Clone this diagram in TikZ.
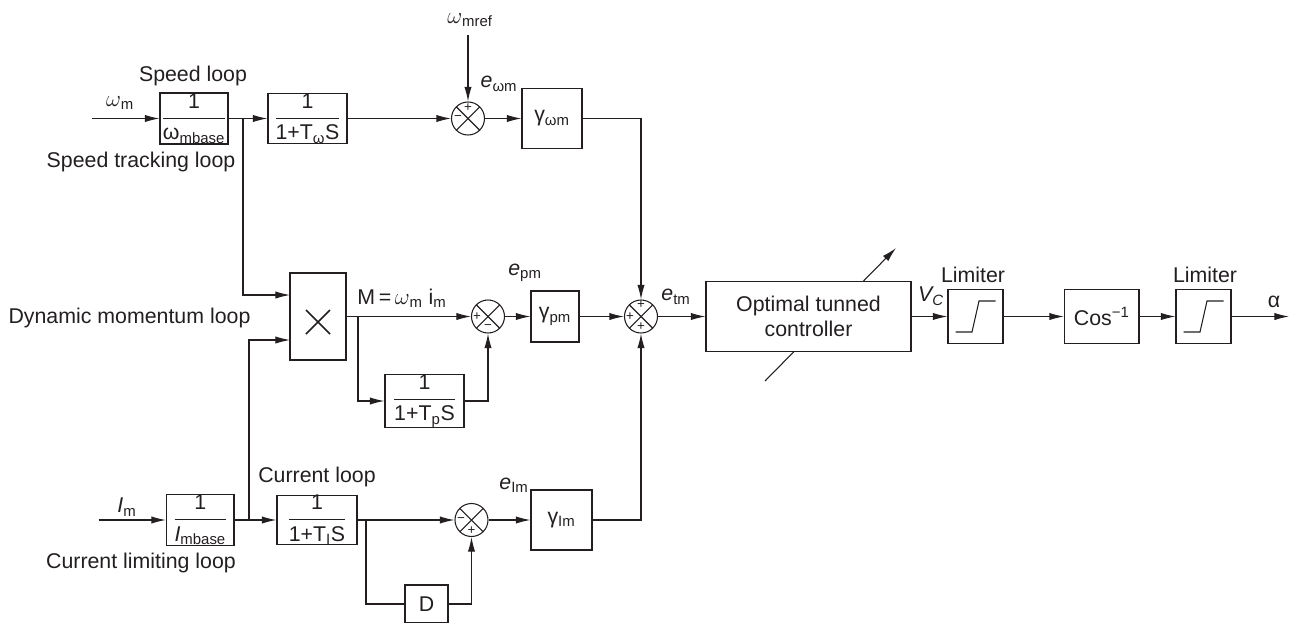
\documentclass[tikz,border=0pt]{standalone}
\usepackage{fontspec}
\setmainfont{Liberation Sans}
\usetikzlibrary{arrows.meta}
\definecolor{ink}{HTML}{231F20}
\newcommand{\blkfrac}[2]{$\displaystyle\frac{\mbox{#1}}{\mbox{#2}}$}
\tikzset{
  blk/.style 2 args={draw,inner sep=0pt,minimum width=#1*0.75pt,minimum height=#2*0.75pt},
  sumnode/.style={draw,circle,inner sep=0pt,minimum size=24.75pt,
    path picture={\draw (path picture bounding box.north west) -- (path picture bounding box.south east);
      \draw (path picture bounding box.north east) -- (path picture bounding box.south west);}},
  lbl/.style={inner sep=0pt},
  sgn/.style={inner sep=0pt,font=\fontsize{10}{10}\selectfont},
  flow/.style={-{Latex[length=11pt,width=5.5pt]}}
}
\begin{document}
\begin{tikzpicture}[x=0.75pt,y=-0.75pt,line width=0.8pt,color=ink,font=\fontsize{16}{19}\selectfont]
\useasboundingbox (0,0) rectangle (1289,622);
% speed row
\coordinate (wmin) at (92,118.5);
\coordinate (wrefin) at (468,35);
\coordinate (jspeed) at (243,118.5);
\node[blk={68}{51}] (gspeed) at (194,118.5) {\blkfrac{1}{ω\textsubscript{mbase}}};
\node[blk={79}{49}] (gwfilt) at (307.5,118.5) {\blkfrac{1}{1+T\textsubscript{ω}S}};
\node[sumnode] (sumw) at (468,118.5) {};
\node[blk={60}{60}] (gamw) at (552,118.5) {γ\textsubscript{ωm}};
\node[sgn] (sumwa) at (468,108) {+};
\node[sgn] (sumwb) at (458,118.5) {−};
% momentum row
\node[blk={56}{87}] (mult) at (318,316.5) {};
\draw[line width=1.1pt] (306,310) -- (330,334);
\draw[line width=1.1pt] (330,310) -- (306,334);
\coordinate (multa) at (290,295);
\coordinate (multb) at (290,340);
\coordinate (jmom) at (358,316.5);
\node[sumnode] (sump) at (488,316.5) {};
\node[blk={79}{48}] (gpfilt) at (424.5,401) {\blkfrac{1}{1+T\textsubscript{p}S}};
\node[blk={48}{51}] (gamp) at (555,316.5) {γ\textsubscript{pm}};
\node[sgn] (sumpa) at (477,317) {+};
\node[sgn] (sumpb) at (488,327) {−};
\node[sumnode] (sumt) at (641,316.5) {};
\node[sgn] (sumta) at (641,305) {+};
\node[sgn] (sumtb) at (630,316.5) {+};
\node[sgn] (sumtc) at (641,326.5) {+};
% current row
\coordinate (imin) at (98.5,520);
\coordinate (jcur) at (249,520);
\coordinate (jfilt) at (366,520);
\node[blk={67.5}{51}] (gcur) at (200.25,520) {\blkfrac{1}{\textit{I}\textsubscript{mbase}}};
\node[blk={80}{48}] (gifilt) at (317,520) {\blkfrac{1}{1+T\textsubscript{I}S}};
\node[sumnode] (sumi) at (471.5,520) {};
\node[blk={43}{38}] (gd) at (426.5,604) {D};
\node[blk={61}{60}] (gami) at (561.5,520) {γ\textsubscript{Im}};
\node[sgn] (sumia) at (461,520) {−};
\node[sgn] (sumib) at (471.5,531) {+};
% controller and output
\coordinate (tunea) at (765,381);
\coordinate (tuneb) at (896,248);
\coordinate (alphaout) at (1289,316.5);
\draw[flow] (tunea) -- (tuneb);
\node[blk={205}{70},fill=white,align=center] (ctrl) at (808.5,316.5) {Optimal tunned\\controller};
\node[blk={55}{54}] (lima) at (975.5,316.5) {};
\node[blk={74.5}{54}] (gcos) at (1101.75,316.5) {Cos\textsuperscript{−1}};
\node[blk={55}{54}] (limb) at (1203.5,316.5) {};
\draw (955.5,332) -- (972,332) -- (979,301) -- (995.5,301);
\draw (1183.5,332) -- (1200,332) -- (1207,301) -- (1223.5,301);
% connectors
\draw[flow] (wmin) -- (gspeed.west);
\draw[flow] (gspeed.east) -- (gwfilt.west);
\draw[flow] (gwfilt.east) -- (sumw.west);
\draw[flow] (wrefin) -- (sumw.north);
\draw[flow] (sumw.east) -- (gamw.west);
\draw[flow] (gamw.east) -| (sumt.north);
\draw[flow] (jspeed) |- (multa);
\draw[flow] (jcur) |- (multb);
\draw[flow] (mult.east) -- (sump.west);
\draw[flow] (jmom) |- (gpfilt.west);
\draw[flow] (gpfilt.east) -| (sump.south);
\draw[flow] (sump.east) -- (gamp.west);
\draw[flow] (gamp.east) -- (sumt.west);
\draw[flow] (sumt.east) -- (ctrl.west);
\draw[flow] (ctrl.east) -- (lima.west);
\draw[flow] (lima.east) -- (gcos.west);
\draw[flow] (gcos.east) -- (limb.west);
\draw[flow] (limb.east) -- (alphaout);
\draw[flow] (imin) -- (gcur.west);
\draw[flow] (gcur.east) -- (gifilt.west);
\draw[flow] (gifilt.east) -- (sumi.west);
\draw (jfilt) |- (gd.west);
\draw[flow] (gd.east) -| (sumi.south);
\draw[flow] (sumi.east) -- (gami.west);
\draw[flow] (gami.east) -| (sumt.south);
% labels
\node[lbl] (lwm) at (120,103) {$\omega$\textsubscript{m}};
\node[lbl] (lwref) at (470,20) {$\omega$\textsubscript{mref}};
\node[lbl] (lspeed) at (193,76) {Speed loop};
\node[lbl] (ltrack) at (141,162) {Speed tracking loop};
\node[lbl] (lew) at (499,84) {\textit{e}\textsubscript{ωm}};
\node[lbl] (ldyn) at (129.5,318) {Dynamic momentum loop};
\node[lbl] (lmom) at (402,298) {M\,=\,$\omega$\textsubscript{m} i\textsubscript{m}};
\node[lbl] (lep) at (525,273) {\textit{e}\textsubscript{pm}};
\node[lbl] (let) at (676,297) {\textit{e}\textsubscript{tm}};
\node[lbl] (lvc) at (931,296) {\textit{V\textsubscript{C}}};
\node[lbl] (lima1) at (973,275) {Limiter};
\node[lbl] (lima2) at (1205,275) {Limiter};
\node[lbl] (lalpha) at (1274,302) {α};
\node[lbl] (lim) at (127,507) {\textit{I}\textsubscript{m}};
\node[lbl] (lcur) at (317,477) {Current loop};
\node[lbl] (llim) at (141,563) {Current limiting loop};
\node[lbl] (lei) at (514,485) {\textit{e}\textsubscript{Im}};
\end{tikzpicture}
\end{document}
